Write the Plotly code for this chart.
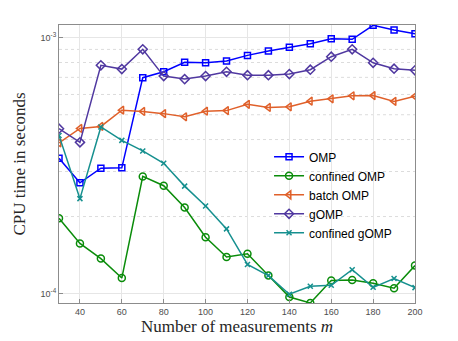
import plotly.graph_objects as go

# Daten
m = [30, 40, 50, 60, 70, 80, 90, 100, 110, 120, 130, 140, 150, 160, 170, 180, 190, 200]

omp = [3.38e-4, 2.71e-4, 3.09e-4, 3.10e-4, 6.98e-4, 7.36e-4, 8.01e-4, 7.98e-4, 8.11e-4,
       8.53e-4, 8.87e-4, 9.17e-4, 9.47e-4, 9.91e-4, 9.86e-4, 1.118e-3, 1.072e-3, 1.037e-3]
confined_omp = [1.97e-4, 1.57e-4, 1.37e-4, 1.15e-4, 2.87e-4, 2.64e-4, 2.17e-4, 1.66e-4, 1.39e-4,
                1.43e-4, 1.176e-4, 9.70e-5, 9.19e-5, 1.124e-4, 1.13e-4, 1.097e-4, 1.05e-4, 1.287e-4]
batch_omp = [3.88e-4, 4.42e-4, 4.50e-4, 5.21e-4, 5.15e-4, 5.05e-4, 4.91e-4, 5.16e-4, 5.19e-4,
             5.49e-4, 5.34e-4, 5.37e-4, 5.65e-4, 5.77e-4, 5.93e-4, 5.94e-4, 5.64e-4, 5.90e-4]
gomp = [4.41e-4, 3.90e-4, 7.80e-4, 7.54e-4, 9.01e-4, 7.08e-4, 6.89e-4, 7.08e-4, 7.36e-4,
        7.14e-4, 7.14e-4, 7.21e-4, 7.50e-4, 8.43e-4, 9.01e-4, 7.98e-4, 7.57e-4, 7.46e-4]
confined_gomp = [4.15e-4, 2.35e-4, 4.48e-4, 3.97e-4, 3.61e-4, 3.23e-4, 2.63e-4, 2.20e-4, 1.79e-4,
                 1.30e-4, 1.176e-4, 9.94e-5, 1.068e-4, 1.078e-4, 1.24e-4, 1.058e-4, 1.145e-4, 1.055e-4]

x_ticks = [40, 60, 80, 100, 120, 140, 160, 180, 200]
y_ticks = [1e-4, 1e-3]
y_ticktext = ["10<sup>-4</sup>", "10<sup>-3</sup>"]
minor_vals = [k * 1e-4 for k in range(2, 10)]

series = [
    ("OMP", omp, "#0000FF", "square-open", 6),
    ("confined OMP", confined_omp, "#0A8C0A", "circle-open", 7),
    ("batch OMP", batch_omp, "#E0602A", "triangle-left-open", 7),
    ("gOMP", gomp, "#5038A0", "diamond-open", 7),
    ("confined gOMP", confined_gomp, "#16908F", "x-thin-open", 5),
]

fig = go.Figure()

# Nebengitter (gepunktet)
for v in minor_vals:
    fig.add_shape(type="line", xref="paper", yref="y", x0=0, x1=1, y0=v, y1=v,
                  line=dict(color="#DCDCDC", width=1, dash="dot"), layer="below")

for name, ys, color, symbol, size in series:
    fig.add_trace(go.Scatter(
        x=m, y=ys, name=name, mode="lines+markers",
        line=dict(color=color, width=1.5),
        marker=dict(symbol=symbol, size=size, color=color,
                    line=dict(color=color, width=1.5)),
    ))

axis_common = dict(
    showline=True, linecolor="#8C8C8C", linewidth=1, mirror=True,
    ticks="inside", ticklen=4, tickcolor="#8C8C8C",
    showgrid=True, gridcolor="#E6E6E6", gridwidth=1,
    tickfont=dict(family="Liberation Sans", size=9, color="#4D4D4D"),
    zeroline=False,
)

# Seite hat 8px Body-Rand -> Raender entsprechend verschoben
fig.update_layout(
    width=458, height=341,
    paper_bgcolor="white", plot_bgcolor="white",
    margin=dict(l=51, r=51, t=17, b=46),
    xaxis=dict(
        range=[30, 200], tickvals=x_ticks,
        title=dict(text="Number of measurements <i>m</i>", standoff=4,
                   font=dict(family="Liberation Serif", size=17, color="#262626")),
        **axis_common,
    ),
    yaxis=dict(
        type="log", range=[-4.0368, -2.9503], tickvals=y_ticks, ticktext=y_ticktext,
        title=dict(text="CPU time in seconds", standoff=10,
                   font=dict(family="Liberation Serif", size=17, color="#262626")),
        **axis_common,
    ),
    legend=dict(
        x=0.59, y=0.578, xanchor="left", yanchor="top",
        bgcolor="rgba(0,0,0,0)", borderwidth=0,
        font=dict(family="Liberation Sans", size=12, color="#000000"),
        itemwidth=30, tracegroupgap=0,
    ),
    showlegend=True,
)

fig.write_html("out.html")
